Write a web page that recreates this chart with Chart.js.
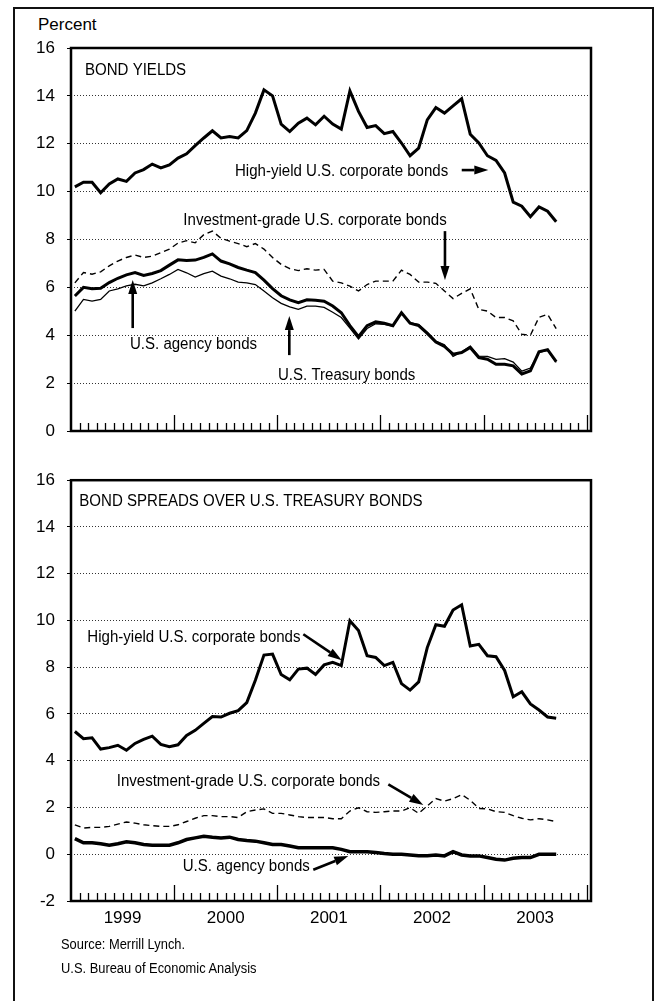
<!DOCTYPE html>
<html>
<head>
<meta charset="utf-8">
<script src="https://cdn.jsdelivr.net/npm/chart.js@4.4.0/dist/chart.umd.min.js"></script>
<style>
html,body{margin:0;padding:0;background:#fff;}
body{width:654px;height:1001px;position:relative;overflow:hidden;font-family:"Liberation Sans",Arial,Helvetica,sans-serif;color:#000;}
#frame{position:absolute;left:13px;top:7px;width:637px;height:1100px;border:2px solid #111;border-bottom:none;}
.txt{position:absolute;white-space:nowrap;line-height:1;transform-origin:0 0;}
#percent{left:38px;top:16px;font-size:17px;}
#src1{left:61px;top:937px;font-size:14px;transform:scaleX(0.92);}
#src2{left:61px;top:961px;font-size:14px;transform:scaleX(0.92);}
.cw{position:absolute;left:0;}
canvas{display:block;}
</style>
</head>
<body>
<div id="frame"></div>
<div class="txt" id="percent">Percent</div>
<div class="cw" style="top:0;width:654px;height:458px;"><canvas id="c1" width="654" height="458"></canvas></div>
<div class="cw" style="top:458px;width:654px;height:482px;"><canvas id="c2" width="654" height="482"></canvas></div>
<div class="txt" id="src1">Source: Merrill Lynch.</div>
<div class="txt" id="src2">U.S. Bureau of Economic Analysis</div>
<script>
// ---- data (monthly, Jan 1999 - Sep 2003) ----
const months = [
 '1999-01','1999-02','1999-03','1999-04','1999-05','1999-06','1999-07','1999-08','1999-09','1999-10','1999-11','1999-12',
 '2000-01','2000-02','2000-03','2000-04','2000-05','2000-06','2000-07','2000-08','2000-09','2000-10','2000-11','2000-12',
 '2001-01','2001-02','2001-03','2001-04','2001-05','2001-06','2001-07','2001-08','2001-09','2001-10','2001-11','2001-12',
 '2002-01','2002-02','2002-03','2002-04','2002-05','2002-06','2002-07','2002-08','2002-09','2002-10','2002-11','2002-12',
 '2003-01','2003-02','2003-03','2003-04','2003-05','2003-06','2003-07','2003-08','2003-09'];
const yearLabels = ['1999','2000','2001','2002','2003'];

// Bond yields (percent)
const highYieldYield = [10.20,10.39,10.39,9.95,10.32,10.53,10.43,10.78,10.92,11.15, 10.99,11.12,11.40,11.58,11.92,12.24,12.54,12.24,12.30,12.24, 12.55,13.28,14.25,14.00,12.82,12.51,12.86,13.07,12.79,13.15, 12.82,12.61,14.21,13.35,12.68,12.76,12.42,12.51,12.03,11.50, 11.82,13.00,13.51,13.28,13.58,13.88,12.40,12.03,11.50,11.30, 10.78,9.56,9.39,8.95,9.36,9.18,8.74];
const invGradeYield = [6.19,6.62,6.55,6.65,6.90,7.10,7.25,7.35,7.25,7.30, 7.45,7.60,7.85,7.95,7.86,8.20,8.35,8.05,7.93,7.83, 7.70,7.83,7.60,7.25,6.96,6.78,6.70,6.78,6.72,6.75, 6.26,6.19,6.05,5.85,6.12,6.26,6.26,6.26,6.72,6.54, 6.22,6.22,6.17,5.85,5.53,5.75,5.94,5.08,5.01,4.74, 4.74,4.60,4.04,4.00,4.75,4.87,4.28];
const agencyYield = [5.64,6.00,5.94,5.96,6.20,6.38,6.52,6.62,6.50,6.58, 6.70,6.93,7.15,7.12,7.14,7.25,7.40,7.10,6.98,6.83, 6.72,6.62,6.30,5.95,5.65,5.48,5.36,5.48,5.46,5.42, 5.22,4.94,4.40,3.94,4.40,4.56,4.50,4.40,4.94,4.50, 4.40,4.08,3.72,3.53,3.21,3.28,3.49,3.07,3.00,2.79, 2.79,2.72,2.38,2.51,3.31,3.40,2.90];
const treasuryYield = [5.01,5.50,5.43,5.50,5.85,5.94,6.06,6.13,6.06,6.19, 6.36,6.54,6.75,6.61,6.43,6.57,6.68,6.47,6.36,6.22, 6.19,6.12,5.85,5.57,5.33,5.19,5.08,5.22,5.22,5.16, 4.96,4.74,4.30,3.84,4.28,4.48,4.46,4.39,4.92,4.52, 4.45,4.13,3.76,3.60,3.12,3.30,3.55,3.13,3.12,2.99, 3.02,2.88,2.50,2.63,3.28,3.37,2.87];

// Spreads over U.S. Treasury bonds (percentage points)
const highYieldSpread = [5.25,4.94,4.98,4.50,4.56,4.66,4.45,4.74,4.91,5.05, 4.70,4.60,4.68,5.08,5.30,5.60,5.89,5.87,6.03,6.14, 6.49,7.44,8.52,8.56,7.69,7.46,7.92,7.96,7.69,8.10, 8.21,8.07,9.99,9.57,8.49,8.42,8.07,8.21,7.30,7.02, 7.37,8.84,9.82,9.75,10.45,10.67,8.91,8.98,8.49,8.45, 7.86,6.74,6.95,6.43,6.17,5.87,5.82];
const invGradeSpread = [1.26,1.12,1.15,1.15,1.19,1.29,1.38,1.33,1.26,1.22, 1.19,1.19,1.26,1.40,1.54,1.65,1.65,1.61,1.61,1.57, 1.82,1.89,1.94,1.75,1.75,1.68,1.61,1.57,1.57,1.57, 1.52,1.52,1.85,1.99,1.82,1.79,1.82,1.85,1.85,1.99, 1.75,2.07,2.38,2.27,2.38,2.55,2.31,1.96,1.94,1.82, 1.79,1.65,1.54,1.47,1.52,1.47,1.40];
const agencySpread = [0.67,0.49,0.49,0.45,0.39,0.45,0.53,0.49,0.42,0.39, 0.39,0.39,0.49,0.63,0.70,0.77,0.73,0.70,0.73,0.63, 0.59,0.56,0.49,0.42,0.42,0.35,0.28,0.28,0.28,0.28, 0.28,0.21,0.11,0.11,0.11,0.07,0.03,0.00,0.00,-0.03, -0.06,-0.06,-0.03,-0.07,0.11,-0.03,-0.07,-0.07,-0.14,-0.21, -0.25,-0.17,-0.14,-0.14,0.00,0.00,0.00];

// ---- presentation ----
const FONT = '"Liberation Sans", Arial, Helvetica, sans-serif';
const INK = '#000';
const xPos = i => i + 0.45;   // mid-month position on a months-since-Jan-1999 axis
const toPts = arr => arr.map((v, i) => ({x: xPos(i), y: v}));

function ds(label, arr, width, dash) {
  return {label, data: toPts(arr), borderColor: INK, backgroundColor: INK,
    borderWidth: width, borderDash: dash || [], pointRadius: 0, tension: 0, fill: false,
    borderCapStyle: 'butt', borderJoinStyle: 'miter'};
}

function drawArrow(ctx, x1, y1, x2, y2) {
  const a = Math.atan2(y2 - y1, x2 - x1), hl = 14, hw = 4.5;
  const bx = x2 - hl * Math.cos(a), by = y2 - hl * Math.sin(a);
  ctx.lineWidth = 2.6; ctx.beginPath(); ctx.moveTo(x1, y1); ctx.lineTo(bx, by); ctx.stroke();
  ctx.beginPath(); ctx.moveTo(x2, y2);
  ctx.lineTo(bx - hw * Math.sin(a), by + hw * Math.cos(a));
  ctx.lineTo(bx + hw * Math.sin(a), by - hw * Math.cos(a));
  ctx.closePath(); ctx.fill();
}

const deco = {
  id: 'deco',
  afterDatasetsDraw(chart, args, opts) {
    const ctx = chart.ctx, ca = chart.chartArea, xs = chart.scales.x, ys = chart.scales.y;
    ctx.save();
    ctx.strokeStyle = INK; ctx.fillStyle = INK;
    // monthly tick marks pointing up from the bottom frame
    ctx.lineWidth = 1.3;
    for (let k = 1; k <= 60; k++) {
      const x = Math.round(xs.getPixelForValue(k)) + 0.5;
      if (x >= ca.right - 2) break;
      const len = (k % 12 === 0) ? 16 : 8;
      ctx.beginPath(); ctx.moveTo(x, ca.bottom); ctx.lineTo(x, ca.bottom - len); ctx.stroke();
    }
    // plot frame
    ctx.lineWidth = 2.5;
    ctx.strokeRect(ca.left, ca.top, ca.right - ca.left, ca.bottom - ca.top);
    // annotations
    ctx.font = '16px ' + FONT; ctx.textAlign = 'left'; ctx.textBaseline = 'alphabetic';
    (opts.notes || []).forEach(n => {
      ctx.save();
      ctx.translate(xs.getPixelForValue(n.x), ys.getPixelForValue(n.y));
      ctx.scale(0.94, 1);
      ctx.fillText(n.text, 0, 0);
      ctx.restore();
    });
    (opts.arrows || []).forEach(a => {
      drawArrow(ctx, xs.getPixelForValue(a[0]), ys.getPixelForValue(a[1]), xs.getPixelForValue(a[2]), ys.getPixelForValue(a[3]));
    });
    ctx.restore();
  }
};

function makeChart(id, datasets, yMin, yMax, padTop, xHeight, showYears, notes, arrows) {
  return new Chart(document.getElementById(id), {
    type: 'line',
    data: {datasets},
    plugins: [deco],
    options: {
      responsive: false, animation: false, devicePixelRatio: 1,
      layout: {padding: {left: 0, right: 63, top: padTop, bottom: 0}},
      plugins: {legend: {display: false}, tooltip: {enabled: false}, deco: {notes, arrows}},
      scales: {
        x: {
          type: 'linear', min: 0, max: 60.5,
          afterFit: s => { s.height = xHeight; },
          afterBuildTicks: s => { if (showYears) s.ticks = yearLabels.map((y, i) => ({value: i * 12 + 6})); },
          ticks: {display: showYears, autoSkip: false, maxRotation: 0, padding: -1, color: INK,
                  font: {size: 17, family: FONT}, callback: (v, i) => yearLabels[i]},
          grid: {display: false}, border: {display: false}
        },
        y: {
          min: yMin, max: yMax,
          afterFit: s => { s.width = 71; },
          ticks: {stepSize: 2, padding: 12, color: INK, font: {size: 17, family: FONT}},
          grid: {color: '#333', lineWidth: 1, drawTicks: true, tickLength: 4, tickColor: INK, tickWidth: 1},
          border: {display: false, dash: [1, 2]}
        }
      }
    }
  });
}

makeChart('c1', [
  ds('High-yield U.S. corporate bonds', highYieldYield, 3),
  ds('Investment-grade U.S. corporate bonds', invGradeYield, 1.4, [6, 4]),
  ds('U.S. agency bonds', agencyYield, 3),
  ds('U.S. Treasury bonds', treasuryYield, 1.3)
], 0, 16, 48, 27, false,
[
  {text: 'BOND YIELDS', x: 1.63, y: 14.87},
  {text: 'High-yield U.S. corporate bonds', x: 19.08, y: 10.65},
  {text: 'Investment-grade U.S. corporate bonds', x: 13.07, y: 8.6},
  {text: 'U.S. agency bonds', x: 6.86, y: 3.41},
  {text: 'U.S. Treasury bonds', x: 24.08, y: 2.13}
],
[
  [45.46, 10.9, 48.55, 10.9],
  [43.51, 8.35, 43.51, 6.31],
  [7.18, 4.30, 7.18, 6.31],
  [25.4, 3.17, 25.4, 4.80]
]);

makeChart('c2', [
  ds('High-yield U.S. corporate bonds', highYieldSpread, 3),
  ds('Investment-grade U.S. corporate bonds', invGradeSpread, 1.4, [6, 4]),
  ds('U.S. agency bonds', agencySpread, 3.5)
], -2, 16, 13, 39, true,
[
  {text: 'BOND SPREADS OVER U.S. TREASURY BONDS', x: 0.97, y: 14.91},
  {text: 'High-yield U.S. corporate bonds', x: 1.9, y: 9.06},
  {text: 'Investment-grade U.S. corporate bonds', x: 5.32, y: 2.93},
  {text: 'U.S. agency bonds', x: 13.0, y: -0.70}
],
[
  [27.03, 9.41, 31.5, 8.30],
  [36.92, 2.99, 40.99, 2.11],
  [28.19, -0.66, 32.26, -0.07]
]);
</script>
</body>
</html>
